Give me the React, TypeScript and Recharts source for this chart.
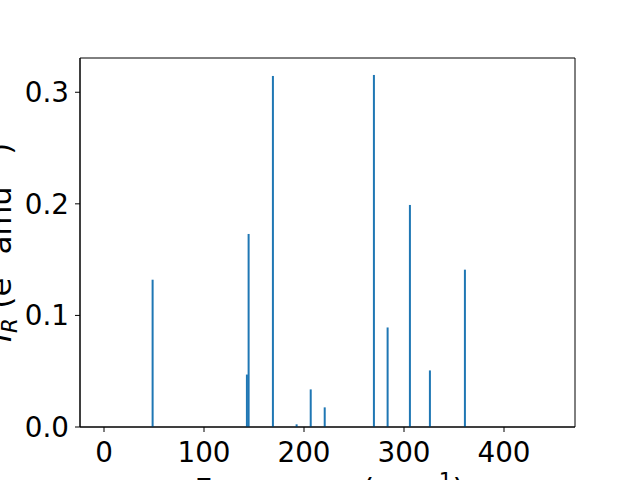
import { BarChart, Bar, XAxis, YAxis, Label, ReferenceArea } from "recharts";

// vibrational modes: frequency (cm^-1) and IR intensity
const freqs = [48.7, 143, 144.7, 169, 192.7, 206.8, 220.8, 270, 283.7, 306, 326, 361];
const intensities = [0.132, 0.047, 0.173, 0.3146, 0.0024, 0.0337, 0.0176, 0.3155, 0.0892, 0.199, 0.0507, 0.141];
const xTicks = [0, 100, 200, 300, 400];
const yTicks = [0, 0.1, 0.2, 0.3];
const xDomain = [-24, 471];
const yDomain = [0, 0.3307];

const data = freqs.map((f, i) => ({ freq: f, ir: intensities[i] }));

const FONT = "DejaVu Sans, sans-serif";
const FS = 27.8; // tick labels
const LFS = 30.6; // axis labels
const SUB = LFS * 0.7;

const renderYLabel = (props: any) => {
  const { viewBox } = props;
  const x = viewBox.x + 11;
  const y = viewBox.y + viewBox.height / 2;
  return (
    <text
      x={x}
      y={y}
      transform={`rotate(-90, ${x}, ${y})`}
      textAnchor="middle"
      fontFamily={FONT}
      fontSize={LFS}
      fill="#000"
    >
      <tspan fontStyle="italic">I</tspan>
      <tspan fontStyle="italic" fontSize={SUB} dy={6}>R</tspan>
      <tspan dy={-6}> (e</tspan>
      <tspan fontSize={SUB} dy={-12}>2</tspan>
      <tspan dy={12}> amu</tspan>
      <tspan fontSize={SUB} dy={-12}>−1</tspan>
      <tspan dy={12}>)</tspan>
    </text>
  );
};

const renderXLabel = (props: any) => {
  const { viewBox } = props;
  const x = viewBox.x + viewBox.width / 2 + 2;
  const y = viewBox.y + 73;
  return (
    <text x={x} y={y} textAnchor="middle" fontFamily={FONT} fontSize={LFS} fill="#000">
      <tspan>Frequency (cm</tspan>
      <tspan fontSize={SUB} dy={-12}>−1</tspan>
      <tspan dy={12}>)</tspan>
    </text>
  );
};

// matplotlib-style thin bar, 2px wide, centred on the library's bar slot
const StickBar = (props: any) => {
  const { x, y, width, height, fill } = props;
  return <rect x={x + width / 2 - 1} y={y} width={2} height={height} fill={fill} />;
};

const App = () => (
  <div style={{ position: "absolute", left: 0, top: 0, background: "#fff" }}>
    <BarChart
      width={640}
      height={480}
      data={data}
      margin={{ top: 58, right: 65, left: 0, bottom: 0 }}
      style={{ fontFamily: FONT }}
    >
      <XAxis
        type="number"
        dataKey="freq"
        domain={xDomain}
        ticks={xTicks}
        allowDataOverflow
        height={53}
        tickSize={5}
        tickMargin={10}
        stroke="#000"
        tick={{ fill: "#000", fontSize: FS, fontFamily: FONT }}
      >
        <Label content={renderXLabel} />
      </XAxis>
      <YAxis
        type="number"
        domain={yDomain}
        ticks={yTicks}
        allowDataOverflow
        width={80}
        tickSize={5}
        tickMargin={6}
        stroke="#000"
        tickFormatter={(v: number) => v.toFixed(1)}
        tick={{ fill: "#000", fontSize: FS, fontFamily: FONT }}
      >
        <Label content={renderYLabel} />
      </YAxis>
      <ReferenceArea
        x1={xDomain[0]}
        x2={xDomain[1]}
        y1={yDomain[0]}
        y2={yDomain[1]}
        fill="none"
        stroke="#000"
        strokeWidth={1}
      />
      <Bar dataKey="ir" fill="#1f77b4" barSize={2} shape={StickBar} isAnimationActive={false} />
    </BarChart>
  </div>
);

export default App;
